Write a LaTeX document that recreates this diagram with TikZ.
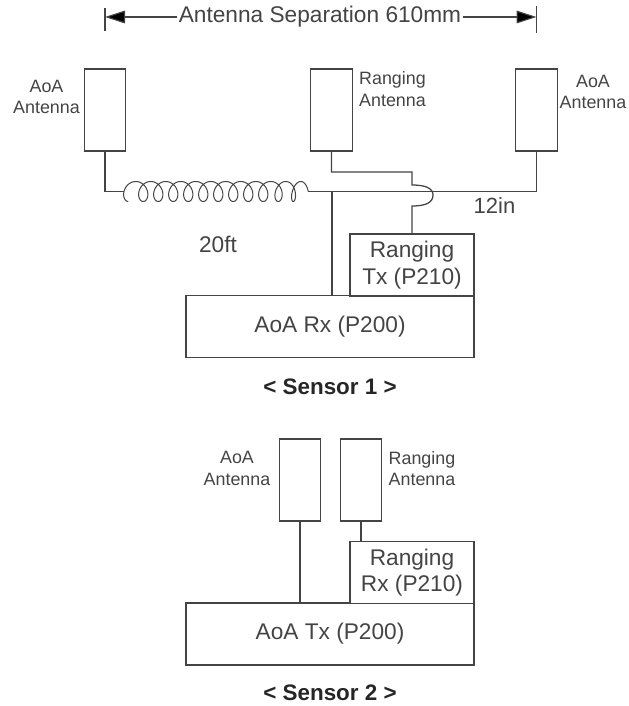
\documentclass[tikz,border=0pt]{standalone}
\usepackage{fontspec}
\setmainfont{Liberation Sans}
\usetikzlibrary{arrows.meta}
\definecolor{ink}{HTML}{444444}
\tikzset{
  wire/.style={draw=ink,line width=0.95pt,line join=miter},
  antbox/.style={draw=ink,line width=0.95pt,fill=white,minimum width=31pt,minimum height=61.5pt,inner sep=0pt},
  blockbox/.style={draw=ink,line width=0.95pt,fill=white,inner sep=0pt,align=center,text=ink,font=\fontsize{17}{20}\selectfont},
  small/.style={text=ink,font=\fontsize{13.4}{16.2}\selectfont,align=center,inner sep=0pt},
  bigtext/.style={text=ink,font=\fontsize{17}{20}\selectfont,inner sep=0pt},
  sensor/.style={text=black!85,font=\fontsize{16.8}{20}\selectfont\bfseries,inner sep=0pt},
  dim/.style={draw=ink,line width=0.85pt},
  dimtip/.style={-{Triangle[length=15pt,width=9.5pt,fill=black]}}
}
\begin{document}
\begin{tikzpicture}[x=0.75pt,y=-0.75pt]
\useasboundingbox (0,0) rectangle (628,706);
% dimension
\coordinate (barLa) at (105,8); \coordinate (barLb) at (105,31);
\coordinate (barRa) at (536.5,6); \coordinate (barRb) at (536.5,33);
\draw[dim] (barLa) -- (barLb);
\draw[dim] (barRa) -- (barRb);
\node[bigtext,fill=white,inner xsep=1pt] (sep) at (320,17) {Antenna Separation 610mm};
\coordinate (tipL) at (105,17); \coordinate (tipR) at (536.5,17);
\draw[dim,dimtip] (sep.west) -- (tipL);
\draw[dim,dimtip] (sep.east) -- (tipR);
% sensor 1 antennas
\node[antbox] (a1) at (105,110) {};
\node[antbox] (r1) at (331.5,110) {};
\node[antbox] (a2) at (536.5,110) {};
\node[small] (a1t) at (46.5,97) {AoA\\Antenna};
\node[small] (r1t) at (392.5,89) {Ranging\\Antenna};
\node[small] (a2t) at (593,92) {AoA\\Antenna};
% sensor 1 blocks
\node[blockbox,minimum width=216pt,minimum height=46pt] (rx) at (330,326.5) {AoA Rx (P200)};
\node[blockbox,minimum width=93pt,minimum height=46.5pt] (tx) at (412,265) {Ranging\\Tx (P210)};
% wires
\coordinate (coilL) at (124,191.5);
\coordinate (coilR) at (308,191.5);
\coordinate (a2drop) at (a2.south |- coilR);
\coordinate (rxTap) at (332,191.5);
\coordinate (rxIn) at (332,296);
\coordinate (jumpTop) at (412,185);
\coordinate (jumpBot) at (412,206);
\draw[wire] (a1.south) |- (coilL);
\draw[wire] (coilR) -- (a2drop) -- (a2.south);
\draw[wire] (rxTap) -- (rxIn);
\draw[wire] (r1.south) |- (412,172) -- (jumpTop)
  .. controls (425,185) and (433,188) .. (433,195)
  .. controls (433,203) and (425,206) .. (jumpBot) -- (tx.north -| jumpBot);
% coil
\draw[draw=ink,line width=0.75pt,line join=round] plot[samples=800,domain=-90:4140,variable=\t]
  ({132+\t/24-(8-3*max(0,(\t-3300)/600))*cos(\t)},{191.5-10*sin(\t)});
\node[bigtext] (l20) at (218,244) {20ft};
\node[bigtext,font=\fontsize{16.5}{20}\selectfont] (l12) at (494.5,206) {12in};
\node[sensor] (s1) at (330,387) {< Sensor 1 >};
% sensor 2
\node[antbox] (a3) at (300,480) {};
\node[antbox] (r2) at (361,480) {};
\node[small] (a3t) at (237,468.5) {AoA\\Antenna};
\node[small] (r2t) at (422,468.5) {Ranging\\Antenna};
\node[blockbox,minimum width=216pt,minimum height=46.5pt] (txb) at (330,634) {AoA Tx (P200)};
\node[blockbox,minimum width=93pt,minimum height=46pt] (rxb) at (412,572.5) {Ranging\\Rx (P210)};
\draw[wire] (a3.south) -- (a3.south |- txb.north);
\draw[wire] (r2.south) -- (r2.south |- rxb.north);
\node[sensor] (s2) at (330,693) {< Sensor 2 >};
\end{tikzpicture}
\end{document}
